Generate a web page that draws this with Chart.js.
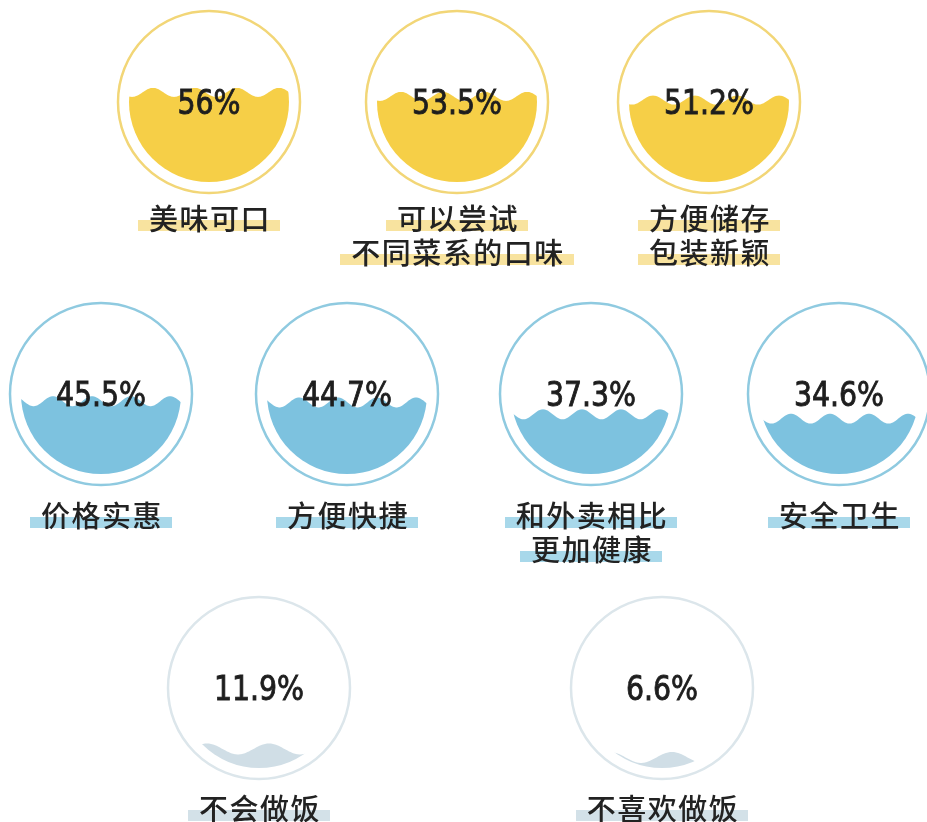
<!DOCTYPE html>
<html>
<head>
<meta charset="utf-8">
<script src="https://cdn.jsdelivr.net/npm/chart.js@4.4.1/dist/chart.umd.min.js"></script>
<style>
  html, body { margin: 0; padding: 0; background: #fff; width: 927px; height: 822px; overflow: hidden; }
  #stage { position: relative; width: 927px; height: 822px; }
  #stage canvas { position: absolute; }
  .label {
    position: absolute; width: 300px; text-align: center;
    font-family: "Noto Sans CJK SC", sans-serif; font-weight: 500; font-size: 29px; line-height: 34px;
    color: #222; letter-spacing: 1.5px;
  }
  .label span { display: inline-block; padding: 0 9px 0 11px; }
</style>
</head>
<body>
<div id="stage"></div>
<script>
// survey answers
const reasons = [
  ['美味可口'],
  ['可以尝试', '不同菜系的口味'],
  ['方便储存', '包装新颖'],
  ['价格实惠'],
  ['方便快捷'],
  ['和外卖相比', '更加健康'],
  ['安全卫生'],
  ['不会做饭'],
  ['不喜欢做饭']
];
const shares = [56, 53.5, 51.2, 45.5, 44.7, 37.3, 34.6, 11.9, 6.6];
const tiers  = [0, 0, 0, 1, 1, 1, 1, 2, 2];

// layout: gauge centres and label top
const centres = [[209, 102], [457, 102], [709, 102],
                 [101, 394], [347, 394], [591, 394], [839, 394],
                 [259, 688], [662, 688]];
const labelTops = [200, 200, 200, 497, 497, 497, 497, 790, 790];

// look of each tier
const tierStyle = [
  { fill: '#f6cf47', ring: '#f2d677', bar: '#f8e39f', len: 42, amp: 4.5, crest: -56 },
  { fill: '#7dc2df', ring: '#8fcae0', bar: '#a8d8ea', len: 39, amp: 5,   crest: -9 },
  { fill: '#d0dee6', ring: '#dce6eb', bar: '#d3e1e8', len: 62, amp: 5.5, crest: 10 }
];

const SIZE = 200, PAD = 20;

const liquid = {
  id: 'liquid',
  afterDatasetsDraw(chart, args, opts) {
    const { ctx, chartArea: a } = chart;
    const cx = (a.left + a.right) / 2, cy = (a.top + a.bottom) / 2;
    const r = (a.right - a.left) / 2;
    const level = chart.getDatasetMeta(0).data[0].y;   // bar top = fill level

    ctx.save();
    ctx.beginPath();
    ctx.arc(cx, cy, r + 11, 0, Math.PI * 2);
    ctx.strokeStyle = opts.ring;
    ctx.lineWidth = 2.5;
    ctx.stroke();

    ctx.beginPath();
    ctx.arc(cx, cy, r, 0, Math.PI * 2);
    ctx.clip();
    ctx.beginPath();
    ctx.moveTo(a.left - 2, a.bottom + 2);
    for (let x = a.left - 2; x <= a.right + 2; x++) {
      ctx.lineTo(x, level - opts.amp * Math.cos(2 * Math.PI * (x - cx - opts.crest) / opts.len));
    }
    ctx.lineTo(a.right + 2, a.bottom + 2);
    ctx.closePath();
    ctx.fillStyle = opts.fill;
    ctx.fill();
    ctx.restore();

    // percentage, a narrowed + thickened DejaVu to get the tall squarish digits
    ctx.save();
    ctx.translate(cx, cy + 12);
    ctx.scale(0.86, 1);
    ctx.font = '33px "DejaVu Sans"';
    ctx.textAlign = 'center';
    ctx.textBaseline = 'alphabetic';
    ctx.fillStyle = '#1e1e1e';
    ctx.strokeStyle = '#1e1e1e';
    ctx.lineWidth = 0.9;
    const txt = chart.data.datasets[0].data[0] + '%';
    ctx.fillText(txt, 0, 0);
    ctx.strokeText(txt, 0, 0);
    ctx.restore();
  }
};

const stage = document.getElementById('stage');

shares.forEach((v, i) => {
  const st = tierStyle[tiers[i]];
  const [cx, cy] = centres[i];

  const cv = document.createElement('canvas');
  cv.width = SIZE; cv.height = SIZE;
  cv.style.left = (cx - SIZE / 2) + 'px';
  cv.style.top = (cy - SIZE / 2) + 'px';
  stage.appendChild(cv);

  new Chart(cv, {
    type: 'bar',
    data: {
      labels: [reasons[i].join('')],
      datasets: [{ data: [v], backgroundColor: 'rgba(0,0,0,0)', barPercentage: 1, categoryPercentage: 1 }]
    },
    options: {
      responsive: false,
      animation: false,
      events: [],
      layout: { padding: PAD },
      plugins: {
        legend: { display: false },
        tooltip: { enabled: false },
        liquid: st
      },
      scales: {
        x: { display: false },
        y: { display: false, min: 0, max: 100 }
      }
    },
    plugins: [liquid]
  });

  // caption with highlighter bars
  const lab = document.createElement('div');
  lab.className = 'label';
  lab.style.left = (cx - 150) + 'px';
  lab.style.top = labelTops[i] + 'px';
  reasons[i].forEach((line, k) => {
    if (k) lab.appendChild(document.createElement('br'));
    const s = document.createElement('span');
    s.textContent = line;
    s.style.background = `linear-gradient(to bottom, transparent 60%, ${st.bar} 60%, ${st.bar} 92%, transparent 92%)`;
    lab.appendChild(s);
  });
  stage.appendChild(lab);
});
</script>
</body>
</html>
